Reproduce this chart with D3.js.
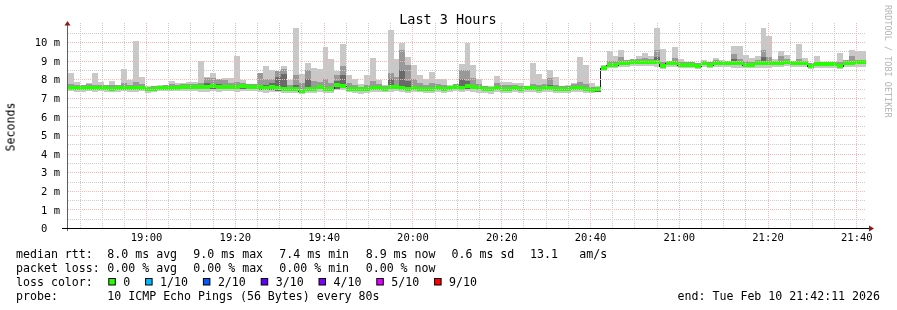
<!DOCTYPE html>
<html>
<head>
<meta charset="utf-8">
<script src="https://cdn.jsdelivr.net/npm/d3@7"></script>
<style>
  body { margin: 0; background: #fff; }
  text { font-family: "DejaVu Sans Mono", monospace; fill: #000; }
</style>
</head>
<body>
<svg id="chart" width="897" height="310"></svg>
<script>
// ---- data ----
const endTime = Date.UTC(2026, 1, 10, 21, 42, 11);
const startTime = endTime - 3 * 3600 * 1000;
const firstStep = Date.UTC(2026, 1, 10, 18, 41, 5);   // start of step 0
const stepMs = 80 * 1000;

// median rtt per 80s step (ms)
const median = [
  7.55, 7.55, 7.53, 7.52, 7.55, 7.52, 7.54, 7.55, 7.50, 7.53, 7.55,
  7.52, 7.53, 7.55, 7.45, 7.48, 7.52, 7.55, 7.55, 7.55, 7.58,
  7.60, 7.58, 7.60, 7.60, 7.63, 7.58, 7.60, 7.60, 7.58, 7.62,
  7.60, 7.60, 7.56, 7.55, 7.58, 7.52, 7.50, 7.46, 7.45, 7.38,
  7.50, 7.46, 7.60, 7.47, 7.45, 7.68, 7.66, 7.50, 7.46, 7.45,
  7.50, 7.52, 7.55, 7.50, 7.58, 7.60, 7.55, 7.50, 7.52, 7.50,
  7.47, 7.50, 7.55, 7.50, 7.52, 7.58, 7.55, 7.65, 7.58, 7.52,
  7.48, 7.45, 7.55, 7.50, 7.50, 7.55, 7.50, 7.52, 7.55, 7.50,
  7.55, 7.52, 7.50, 7.50, 7.48, 7.55, 7.55, 7.50, 7.44, 7.45,
  8.58, 8.76, 8.76, 8.85, 8.89, 8.94, 8.94, 8.94, 8.94, 8.90,
  8.70, 8.85, 8.85, 8.76, 8.76, 8.76, 8.70, 8.85, 8.78, 8.88,
  8.85, 8.85, 8.85, 8.85, 8.78, 8.78, 8.85, 8.85, 8.89, 8.89,
  8.89, 8.92, 8.88, 8.85, 8.85, 8.70, 8.80, 8.80, 8.80, 8.80,
  8.73, 8.89, 8.89, 8.90, 8.90
];
// outer smoke (lightest band) bottom / top
const smokeLo = [
  7.35, 7.35, 7.33, 7.32, 7.36, 7.32, 7.34, 7.30, 7.30, 7.33, 7.35,
  7.30, 7.33, 7.36, 7.28, 7.30, 7.35, 7.36, 7.35, 7.34, 7.36,
  7.38, 7.35, 7.30, 7.32, 7.35, 7.30, 7.36, 7.34, 7.30, 7.36,
  7.38, 7.36, 7.30, 7.28, 7.30, 7.30, 7.28, 7.28, 7.25, 7.22,
  7.28, 7.26, 7.32, 7.24, 7.25, 7.40, 7.40, 7.30, 7.26, 7.22,
  7.28, 7.30, 7.30, 7.30, 7.30, 7.36, 7.32, 7.28, 7.30, 7.30,
  7.26, 7.28, 7.30, 7.28, 7.30, 7.34, 7.30, 7.36, 7.30, 7.28,
  7.25, 7.22, 7.30, 7.28, 7.28, 7.32, 7.28, 7.30, 7.30, 7.28,
  7.30, 7.30, 7.28, 7.28, 7.26, 7.32, 7.30, 7.28, 7.28, 7.30,
  8.45, 8.62, 8.62, 8.66, 8.68, 8.72, 8.70, 8.72, 8.70, 8.66,
  8.55, 8.64, 8.64, 8.58, 8.60, 8.60, 8.55, 8.64, 8.60, 8.66,
  8.64, 8.64, 8.62, 8.62, 8.60, 8.58, 8.62, 8.60, 8.62, 8.66,
  8.66, 8.70, 8.66, 8.64, 8.64, 8.55, 8.60, 8.60, 8.60, 8.60,
  8.55, 8.66, 8.66, 8.68, 8.68
];
const smokeHi = [
  7.90, 8.35, 7.87, 7.66, 7.78, 8.35, 7.87, 7.66, 7.90, 7.66, 8.55,
  7.96, 10.07, 8.12, 7.62, 7.66, 7.70, 7.66, 7.90, 7.78, 7.78,
  7.87, 7.87, 8.98, 8.12, 8.35, 8.00, 8.06, 8.06, 9.25, 7.96,
  7.72, 7.75, 8.35, 8.71, 8.50, 8.45, 8.71, 7.96, 10.75, 8.28,
  8.85, 8.58, 8.53, 9.75, 9.07, 8.46, 9.89, 8.23, 8.00, 7.74,
  8.23, 9.12, 7.96, 7.70, 10.65, 9.07, 9.96, 9.21, 8.76, 8.23,
  8.00, 8.40, 8.00, 8.00, 7.70, 7.75, 8.82, 9.96, 8.76, 8.00,
  7.66, 7.66, 8.17, 7.87, 7.87, 7.78, 7.78, 7.66, 8.89, 8.28,
  8.00, 8.50, 8.10, 7.66, 7.70, 7.78, 9.21, 8.76, 7.80, 7.62,
  8.75, 9.53, 9.25, 9.57, 9.03, 9.03, 9.25, 9.43, 9.25, 10.75,
  9.64, 8.94, 9.75, 9.07, 8.85, 8.85, 8.85, 9.03, 8.94, 9.12,
  9.03, 8.94, 9.78, 9.78, 9.30, 9.12, 9.25, 10.75, 10.32, 9.07,
  9.53, 9.30, 9.00, 9.89, 9.12, 8.89, 9.25, 8.94, 8.94, 8.94,
  9.43, 8.94, 9.57, 9.50, 9.50
];
// inner smoke bands: common bottom, top of middle band, top of dark band
const midLo = [
  7.45, 7.45, 7.43, 7.42, 7.45, 7.42, 7.44, 7.45, 7.40, 7.43, 7.45,
  7.42, 7.43, 7.45, 7.35, 7.38, 7.42, 7.45, 7.45, 7.45, 7.48,
  7.50, 7.48, 7.48, 7.45, 7.50, 7.45, 7.48, 7.48, 7.46, 7.50,
  7.50, 7.50, 7.42, 7.40, 7.42, 7.38, 7.36, 7.35, 7.34, 7.30,
  7.38, 7.35, 7.45, 7.35, 7.34, 7.50, 7.52, 7.40, 7.36, 7.34,
  7.40, 7.42, 7.44, 7.40, 7.46, 7.48, 7.44, 7.40, 7.42, 7.40,
  7.37, 7.40, 7.44, 7.40, 7.42, 7.46, 7.42, 7.50, 7.46, 7.40,
  7.38, 7.34, 7.44, 7.40, 7.40, 7.44, 7.40, 7.42, 7.44, 7.40,
  7.44, 7.42, 7.40, 7.40, 7.38, 7.44, 7.44, 7.40, 7.34, 7.30,
  8.50, 8.68, 8.68, 8.75, 8.80, 8.84, 8.84, 8.84, 8.84, 8.80,
  8.62, 8.75, 8.75, 8.68, 8.68, 8.68, 8.62, 8.75, 8.70, 8.78,
  8.75, 8.75, 8.75, 8.75, 8.70, 8.70, 8.75, 8.75, 8.80, 8.80,
  8.80, 8.82, 8.78, 8.75, 8.75, 8.62, 8.70, 8.70, 8.70, 8.70,
  8.64, 8.80, 8.80, 8.80, 8.80
];
const midHi = [
  7.70, 7.75, 7.70, 7.68, 7.72, 7.68, 7.70, 7.70, 7.68, 7.70, 7.78,
  7.70, 7.85, 7.75, 7.60, 7.62, 7.66, 7.70, 7.72, 7.70, 7.74,
  7.76, 7.75, 7.80, 8.05, 8.05, 8.00, 7.95, 7.80, 7.85, 7.78,
  7.74, 7.74, 8.35, 8.00, 8.00, 8.45, 8.55, 7.70, 8.20, 7.80,
  8.50, 7.90, 7.85, 8.00, 7.80, 8.20, 8.70, 7.80, 7.70, 7.60,
  7.70, 7.90, 7.75, 7.65, 8.35, 8.14, 9.57, 8.76, 8.00, 7.80,
  7.70, 7.80, 7.75, 7.70, 7.65, 7.74, 8.50, 8.50, 8.05, 7.74,
  7.64, 7.60, 7.80, 7.70, 7.70, 7.70, 7.66, 7.66, 7.75, 7.70,
  7.72, 8.05, 7.70, 7.64, 7.64, 7.72, 7.87, 7.75, 7.60, 7.55,
  8.70, 9.00, 9.00, 9.20, 9.05, 9.10, 9.10, 9.12, 9.10, 9.57,
  8.95, 8.90, 9.15, 8.95, 8.90, 8.90, 8.85, 9.00, 8.95, 9.02,
  9.00, 8.95, 9.35, 9.10, 9.00, 8.95, 9.05, 9.57, 9.20, 9.00,
  9.25, 9.10, 9.00, 9.10, 9.00, 8.85, 8.95, 8.95, 8.95, 8.95,
  8.95, 9.05, 9.25, 9.05, 9.05
];
const darkHi = [
  7.62, 7.62, 7.60, 7.60, 7.62, 7.60, 7.62, 7.62, 7.58, 7.60, 7.62,
  7.60, 7.62, 7.62, 7.52, 7.55, 7.60, 7.62, 7.62, 7.62, 7.66,
  7.68, 7.66, 7.68, 7.80, 7.75, 7.72, 7.68, 7.68, 7.66, 7.70,
  7.68, 7.68, 7.70, 7.70, 7.80, 8.10, 8.30, 7.55, 7.70, 7.50,
  8.00, 7.60, 7.70, 7.60, 7.55, 7.90, 8.20, 7.60, 7.55, 7.52,
  7.60, 7.60, 7.62, 7.58, 8.00, 7.70, 8.50, 7.90, 7.62, 7.60,
  7.55, 7.60, 7.62, 7.58, 7.60, 7.66, 8.00, 7.90, 7.70, 7.60,
  7.56, 7.52, 7.62, 7.58, 7.58, 7.62, 7.58, 7.60, 7.62, 7.58,
  7.62, 7.70, 7.58, 7.58, 7.56, 7.62, 7.62, 7.58, 7.52, 7.52,
  8.66, 8.84, 8.84, 8.95, 8.97, 9.02, 9.02, 9.02, 9.02, 9.20,
  8.80, 8.93, 8.95, 8.84, 8.84, 8.84, 8.78, 8.92, 8.86, 8.95,
  8.92, 8.92, 9.10, 8.95, 8.86, 8.86, 8.92, 9.20, 9.00, 8.96,
  9.00, 9.00, 8.96, 8.93, 8.93, 8.78, 8.88, 8.88, 8.88, 8.88,
  8.80, 8.97, 9.00, 8.98, 8.98
];

const yTicks = [0, 1, 2, 3, 4, 5, 6, 7, 8, 9, 10];
const title = "Last 3 Hours";
const yLabel = "Seconds";
const watermark = "RRDTOOL / TOBI OETIKER";

const rttStats = ["8.0 ms avg", "9.0 ms max", "7.4 ms min", "8.9 ms now", "0.6 ms sd", "13.1", "am/s"];
const lossStats = ["0.00 % avg", "0.00 % max", "0.00 % min", "0.00 % now"];
const rowLabels = ["median rtt:", "packet loss:", "loss color:", "probe:"];
const probeText = "10 ICMP Echo Pings (56 Bytes) every 80s";
const lossLabels = ["0", "1/10", "2/10", "3/10", "4/10", "5/10", "9/10"];
const lossColors = ["#26ff00", "#00b8ff", "#0059ff", "#5e00ff", "#7e00ff", "#dd00ff", "#ff0000"];
const endLabel = "end: Tue Feb 10 21:42:11 2026";

// ---- chart ----
const svg = d3.select("#chart");
const plot = { left: 67, right: 866, top: 23.4, bottom: 228 };

const x = d3.scaleUtc().domain([startTime, endTime]).range([plot.left, plot.right]);
const y = d3.scaleLinear().domain([0, 11]).range([plot.bottom, plot.top]);

const steps = median.map((m, j) => ({
  t0: firstStep + j * stepMs,
  t1: firstStep + (j + 1) * stepMs,
  median: m, lo: smokeLo[j], hi: smokeHi[j],
  midLo: midLo[j], midHi: midHi[j], darkHi: darkHi[j]
}));

const defs = svg.append("defs");
defs.append("clipPath").attr("id", "plotclip")
  .append("rect")
  .attr("x", plot.left + 1).attr("y", plot.top)
  .attr("width", plot.right - plot.left - 1).attr("height", plot.bottom - plot.top);
// plain grey antialiasing for text
defs.append("filter").attr("id", "grey")
  .append("feColorMatrix").attr("type", "saturate").attr("values", 0);

const data = svg.append("g").attr("clip-path", "url(#plotclip)")
  .attr("shape-rendering", "crispEdges");

function band(cls, lowKey, highKey, color) {
  data.selectAll("rect." + cls)
    .data(steps)
    .join("rect")
    .attr("class", cls)
    .attr("x", d => x(d.t0))
    .attr("width", d => x(d.t1) - x(d.t0))
    .attr("y", d => y(d[highKey]))
    .attr("height", d => Math.max(0, y(d[lowKey]) - y(d[highKey])))
    .attr("fill", color);
}
band("smoke1", "lo", "hi", "#c8c8c8");
band("smoke2", "midLo", "midHi", "#999999");
band("smoke3", "midLo", "darkHi", "#6a6a6a");

// grid (dotted)
const minor5 = d3.utcMinute.every(5).range(startTime, endTime).filter(d => d.getUTCMinutes() % 20 !== 0);
const major20 = d3.utcMinute.every(20).range(startTime, endTime);
const hMinor = d3.range(0.5, 11, 1);
const hMajor = d3.range(1, 11, 1);

const grid = svg.append("g").attr("shape-rendering", "crispEdges")
  .attr("stroke-dasharray", "1,1").attr("stroke-width", 1);

grid.selectAll("line.hmin").data(hMinor).join("line")
  .attr("x1", plot.left + 1).attr("x2", plot.right)
  .attr("y1", d => Math.round(y(d)) + 0.5).attr("y2", d => Math.round(y(d)) + 0.5)
  .attr("stroke", "#cccccc");
grid.selectAll("line.vmin").data(minor5).join("line")
  .attr("y1", plot.bottom).attr("y2", plot.top)
  .attr("x1", d => Math.round(x(d)) + 0.5).attr("x2", d => Math.round(x(d)) + 0.5)
  .attr("stroke", "#cccccc");
grid.selectAll("line.hmaj").data(hMajor).join("line")
  .attr("x1", plot.left + 1).attr("x2", plot.right)
  .attr("y1", d => Math.round(y(d)) + 0.5).attr("y2", d => Math.round(y(d)) + 0.5)
  .attr("stroke", "#f4b8b8");
grid.selectAll("line.vmaj").data(major20).join("line")
  .attr("y1", plot.bottom).attr("y2", plot.top)
  .attr("x1", d => Math.round(x(d)) + 0.5).attr("x2", d => Math.round(x(d)) + 0.5)
  .attr("stroke", "#f4b8b8");

// median line + loss colour band
const medLine = d3.line()
  .x(d => x(d.t))
  .y(d => Math.round(y(d.v)) + 0.5)
  .curve(d3.curveStepAfter);
const medPts = steps.map(d => ({ t: d.t0, v: d.median }));
medPts.push({ t: steps[steps.length - 1].t1, v: median[median.length - 1] });
data.append("path")
  .attr("d", medLine(medPts))
  .attr("fill", "none").attr("stroke", "#202020").attr("stroke-width", 1);

data.selectAll("rect.loss")
  .data(steps)
  .join("rect")
  .attr("class", "loss")
  .attr("x", d => x(d.t0))
  .attr("width", d => x(d.t1) - x(d.t0))
  .attr("y", d => y(d.median) - 2)
  .attr("height", 4)
  .attr("fill", lossColors[0]);

// axes
const axisFont = g => g.selectAll("text")
  .style("font-family", '"DejaVu Sans Mono", monospace')
  .style("font-size", "10.5px").style("fill", "#000");

const xAxis = d3.axisBottom(x)
  .ticks(d3.utcMinute.every(20))
  .tickFormat(d3.utcFormat("%H:%M"))
  .tickSize(0).tickPadding(6);
const gx = svg.append("g").attr("transform", `translate(0,${plot.bottom})`)
  .attr("filter", "url(#grey)").call(xAxis);
gx.select(".domain").remove();
gx.call(axisFont);

const yAxis = d3.axisLeft(y)
  .tickValues(yTicks)
  .tickFormat(d => d === 0 ? "0\u00a0\u00a0" : d + "\u00a0m")
  .tickSize(0).tickPadding(7);
const gy = svg.append("g").attr("transform", `translate(${plot.left},0)`)
  .attr("filter", "url(#grey)").call(yAxis);
gy.select(".domain").remove();
gy.call(axisFont);
gy.selectAll("text").attr("dy", "0.36em");

// axis lines with arrows
svg.append("line").attr("x1", plot.left + 0.5).attr("x2", plot.left + 0.5)
  .attr("y1", plot.bottom + 3).attr("y2", 24).attr("stroke", "#606060");
svg.append("line").attr("x1", 62).attr("x2", 870)
  .attr("y1", plot.bottom + 0.5).attr("y2", plot.bottom + 0.5).attr("stroke", "#000");
svg.append("path").attr("d", `M${plot.left - 2.5},25.5L${plot.left + 3.5},25.5L${plot.left + 0.5},21Z`).attr("fill", "#8b1a1a");
svg.append("path").attr("d", `M869,${plot.bottom - 2.5}L869,${plot.bottom + 3.5}L874,${plot.bottom + 0.5}Z`).attr("fill", "#8b1a1a");

// title, axis label, watermark
const texts = svg.append("g").attr("filter", "url(#grey)");
texts.append("text").attr("x", 448).attr("y", 24).attr("text-anchor", "middle")
  .style("font-size", "13.5px").text(title);
texts.append("text").attr("transform", "translate(14.5,127) rotate(-90)").attr("text-anchor", "middle")
  .style("font-size", "11.6px").text(yLabel);
texts.append("text").attr("transform", "translate(885,5) rotate(90)")
  .style("font-size", "8.5px").style("fill", "#b4b4b4").text(watermark);

// legend
const nb = s => s.replace(/ /g, "\u00a0");
const legend = svg.append("g").style("font-size", "11.6px");
const legendText = legend.append("g").attr("filter", "url(#grey)");
const rowY = [257.5, 271.5, 285.5, 299.5];
const colX = [107.3, 193.3, 279.3, 365.7, 451.5, 530, 579.3];
rowLabels.forEach((lab, i) => legendText.append("text").attr("x", 16).attr("y", rowY[i]).text(lab));
rttStats.forEach((s, i) => legendText.append("text").attr("x", colX[i]).attr("y", rowY[0]).text(nb(s)));
lossStats.forEach((s, i) => legendText.append("text").attr("x", colX[i]).attr("y", rowY[1]).text(nb(s)));
legendText.append("text").attr("x", colX[0]).attr("y", rowY[3]).text(nb(probeText));

const charW = 7.0;
let lx = 108.3;
lossLabels.forEach((lab, i) => {
  legend.append("rect").attr("x", lx + 0.5).attr("y", 278.5).attr("width", 6.5).attr("height", 6.5)
    .attr("fill", lossColors[i]).attr("stroke", "#000").attr("stroke-width", 1);
  legendText.append("text").attr("x", lx + 15).attr("y", rowY[2]).text(lab);
  lx = lx + 15 + lab.length * charW + 14.8;
});
legendText.append("text").attr("x", 880).attr("y", rowY[3]).attr("text-anchor", "end").text(nb(endLabel));
</script>
</body>
</html>
